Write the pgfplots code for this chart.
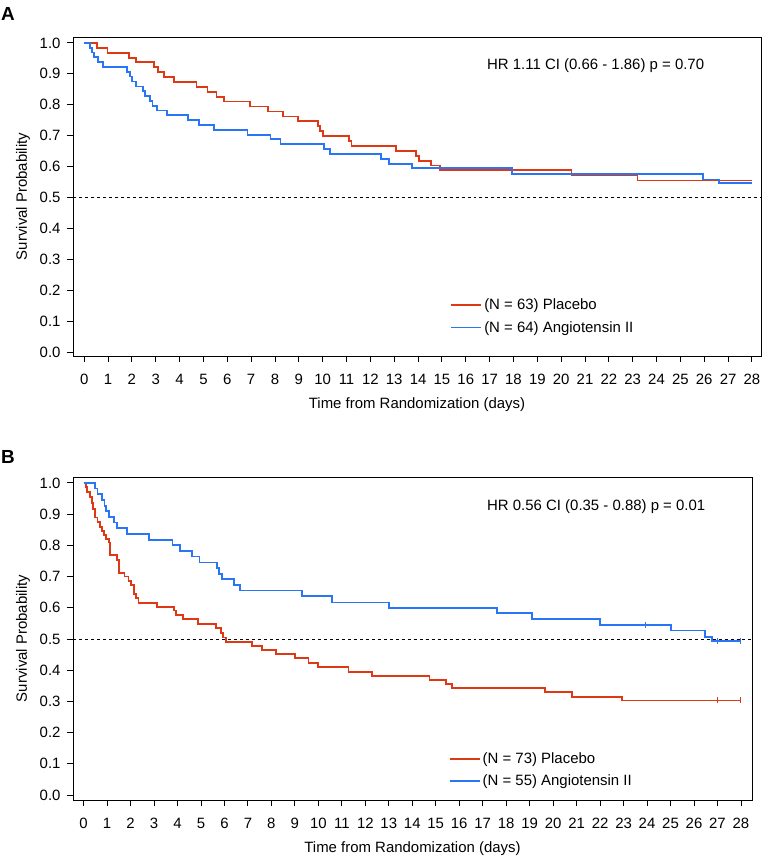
\documentclass[border=0pt]{standalone}
\usepackage{fontspec}
\setmainfont{Liberation Sans}
\usepackage{pgfplots}
\pgfplotsset{compat=1.18}
\definecolor{kmred}{RGB}{222,56,20}
\definecolor{kmblue}{RGB}{40,118,245}
\pgfplotsset{km/.style={
  scale only axis,
  xtick={0,...,28},
  ytick={0,0.1,0.2,0.3,0.4,0.5,0.6,0.7,0.8,0.9,1.0},
  yticklabel style={/pgf/number format/fixed,/pgf/number format/fixed zerofill,/pgf/number format/precision=1, xshift=-3bp},
  xticklabel style={yshift=-9bp},
  /pgf/number format/assume math mode=true,
  tick align=outside, tick pos=left, major tick length=6bp,
  axis line style={line width=0.9bp}, every tick/.style={line width=0.9bp, black},
  ticklabel style={font=\fontsize{15}{17}\selectfont},
  label style={font=\fontsize{15}{17}\selectfont},
  xlabel={Time from Randomization (days)},
  ylabel={Survival Probability},
  xlabel style={yshift=-6bp},
  ylabel style={yshift=3bp},
  legend style={draw=none, fill=none, font=\fontsize{15}{17}\selectfont, row sep=6bp, anchor=west, inner sep=0pt},
  legend cell align=left,
  legend image code/.code={\draw[#1, line width=1.8bp] (0bp,0bp) -- (30bp,0bp);},
  every axis plot/.append style={line width=1.8bp},
}}
\begin{document}
\begin{tikzpicture}
\path[use as bounding box] (0,0) rectangle (762bp,856bp);
% Panel A
\node[anchor=north west, inner sep=0pt, font=\fontsize{19}{20}\selectfont\bfseries] at (1bp,849bp) {A};
\begin{axis}[km, at={(73bp,500bp)}, anchor=south west, width=688bp, height=319bp,
  xmin=-0.47, xmax=28.38, ymin=-0.013, ymax=1.019,
  legend style={at={(axis cs:15.35,0.115)}}]
\addplot[kmred, const plot] coordinates {
(0,1.0) (0.52,0.984) (0.98,0.968) (1.88,0.952) (2.18,0.937) (2.93,0.921) (3.08,0.905) (3.35,0.889) (3.77,0.873) (4.71,0.857) (5.17,0.841) (5.55,0.825) (5.86,0.81) (6.95,0.794) (7.72,0.778) (8.34,0.762) (8.95,0.746) (9.82,0.73) (9.89,0.714) (10.0,0.698) (11.11,0.683) (11.21,0.667) (13.07,0.651) (13.91,0.635) (14.05,0.619) (14.54,0.603) (14.91,0.589) (20.43,0.571) (23.2,0.555) (28.0,0.555)};
\addlegendentry{(N = 63) Placebo}
\addplot[kmblue, const plot] coordinates {
(0,1) (0.24,0.984) (0.34,0.969) (0.42,0.953) (0.57,0.938) (0.8,0.922) (1.78,0.906) (1.92,0.891) (2.01,0.875) (2.16,0.859) (2.48,0.844) (2.55,0.828) (2.76,0.812) (2.86,0.797) (3.04,0.781) (3.48,0.766) (4.34,0.75) (4.81,0.734) (5.45,0.719) (6.85,0.703) (7.81,0.688) (8.23,0.672) (10.07,0.656) (10.31,0.641) (12.43,0.625) (12.79,0.609) (13.73,0.594) (17.94,0.576) (25.96,0.558) (26.61,0.546) (28.0,0.546)};
\addlegendentry{(N = 64) Angiotensin II}
\addplot[black, dashed, line width=0.8bp, forget plot] coordinates {(-0.47,0.5) (28.38,0.5)};
\node[anchor=west, font=\fontsize{15}{17}\selectfont] at (axis cs:16.75,0.925) {HR 1.11 CI (0.66 - 1.86) p = 0.70};
\end{axis}
% Panel B
\node[anchor=north west, inner sep=0pt, font=\fontsize{19}{20}\selectfont\bfseries] at (1bp,406bp) {B};
\begin{axis}[km, at={(73bp,56bp)}, anchor=south west, width=679bp, height=323bp,
  xmin=-0.45, xmax=28.47, ymin=-0.016, ymax=1.019,
  legend style={at={(axis cs:15.55,0.08)}}]
\addplot[kmred, const plot] coordinates {
(0,1) (0.1,0.988) (0.16,0.971) (0.27,0.956) (0.37,0.935) (0.41,0.916) (0.47,0.889) (0.59,0.876) (0.7,0.86) (0.78,0.846) (0.87,0.832) (0.96,0.82) (1.08,0.809) (1.11,0.769) (1.44,0.753) (1.51,0.711) (1.74,0.70) (1.91,0.686) (2.01,0.673) (2.15,0.644) (2.23,0.63) (2.34,0.616) (3.12,0.602) (3.85,0.591) (3.93,0.577) (4.25,0.563) (4.87,0.547) (5.64,0.534) (5.85,0.52) (5.93,0.505) (6.06,0.491) (7.19,0.478) (7.59,0.465) (8.19,0.452) (9.0,0.438) (9.58,0.424) (10.0,0.411) (11.28,0.395) (12.3,0.382) (14.73,0.369) (15.44,0.356) (15.68,0.344) (19.67,0.331) (20.8,0.315) (22.92,0.303) (28.0,0.303)};
\addlegendentry{(N = 73) Placebo}
\addplot[kmblue, const plot] coordinates {
(0,1) (0.47,0.982) (0.59,0.964) (0.8,0.945) (0.89,0.927) (0.96,0.909) (1.08,0.891) (1.31,0.873) (1.42,0.855) (1.84,0.836) (2.8,0.818) (3.79,0.80) (4.11,0.782) (4.63,0.764) (4.94,0.745) (5.69,0.727) (5.78,0.709) (5.89,0.691) (6.41,0.673) (6.67,0.655) (9.3,0.638) (10.57,0.617) (13.0,0.60) (17.6,0.582) (19.09,0.564) (22.0,0.544) (25.02,0.527) (26.47,0.507) (26.75,0.494) (28.0,0.494)};
\addlegendentry{(N = 55) Angiotensin II}
\addplot[kmred, only marks, mark=|, mark size=3bp, line width=1bp, forget plot] coordinates {(27.0,0.303) (28.0,0.303)};
\addplot[kmblue, only marks, mark=|, mark size=3bp, line width=1bp, forget plot] coordinates {(23.95,0.544) (27.0,0.494) (28.0,0.494)};
\addplot[black, dashed, line width=0.8bp, forget plot] coordinates {(-0.45,0.5) (28.47,0.5)};
\node[anchor=west, font=\fontsize{15}{17}\selectfont] at (axis cs:17.04,0.925) {HR 0.56 CI (0.35 - 0.88) p = 0.01};
\end{axis}
\end{tikzpicture}
\end{document}
